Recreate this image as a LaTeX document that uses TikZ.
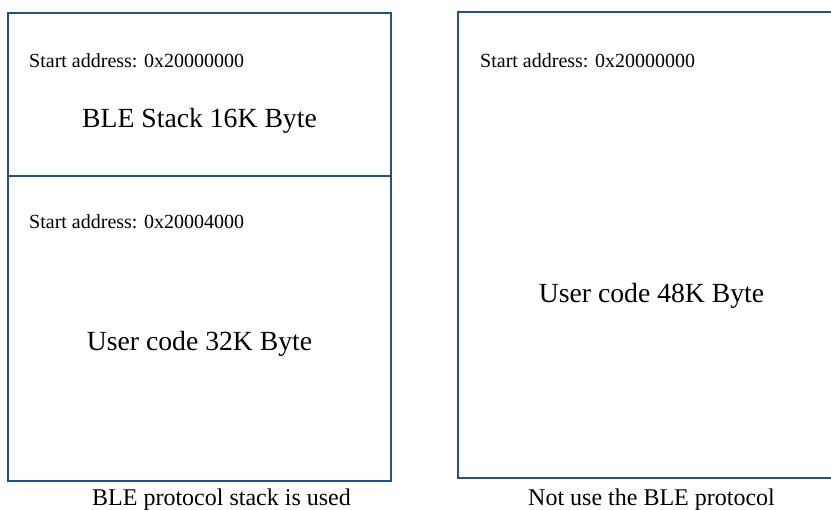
\documentclass[tikz,border=0pt]{standalone}
\usepackage{fontspec}
\setmainfont{Liberation Serif}
\definecolor{boxblue}{RGB}{38,80,126}
\tikzset{
  memline/.style={draw=boxblue, line width=2.6pt},
  smalltxt/.style={inner sep=0pt, anchor=base west, font=\fontsize{20}{24}\selectfont},
  bigtxt/.style={inner sep=0pt, anchor=base, font=\fontsize{27.7}{32}\selectfont},
  captxt/.style={inner sep=0pt, anchor=base, font=\fontsize{24}{28}\selectfont}
}
\begin{document}
\begin{tikzpicture}[x=1pt,y=-1pt]
\useasboundingbox (0,0) rectangle (831,510);
% left memory map
\draw[memline] (8,13) rectangle (391,481);
\draw[memline] (8,176) -- (391,176);
% right memory map (right edge lies outside the picture)
\draw[memline] (845,12) -- (458,12) -- (458,478) -- (845,478);
% texts
\node[smalltxt] (sa1) at (29,68) {Start address: 0x20000000};
\node[bigtxt] (ble) at (199.5,128) {BLE Stack 16K Byte};
\node[smalltxt] (sa2) at (29,229) {Start address: 0x20004000};
\node[bigtxt] (uc32) at (199.5,351) {User code 32K Byte};
\node[smalltxt] (sa3) at (480,68) {Start address: 0x20000000};
\node[bigtxt] (uc48) at (651.5,303) {User code 48K Byte};
\node[captxt] (cap1) at (221.5,506) {BLE protocol stack is used};
\node[captxt] (cap2) at (651.5,506) {Not use the BLE protocol};
\end{tikzpicture}
\end{document}
